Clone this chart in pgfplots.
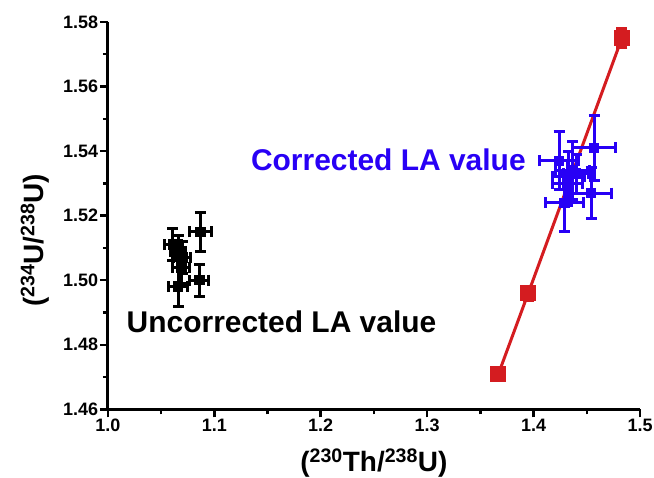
\documentclass[border=0pt]{standalone}
\usepackage{pgfplots}
\pgfplotsset{compat=1.18}
\usepackage{fontspec}
\setmainfont{Liberation Sans}
\definecolor{myblue}{RGB}{40,0,245}
\definecolor{myred}{RGB}{212,28,32}
\begin{document}
\begin{tikzpicture}
\begin{axis}[
 scale only axis, width=533pt, height=388pt,
 at={(0,0)}, anchor=south west,
 xmin=1.0, xmax=1.5, ymin=1.46, ymax=1.58,
 axis lines*=left, axis line style={line width=2.8pt},
 tick align=outside, major tick length=8pt, minor tick length=5pt,
 every tick/.style={black, line width=2.5pt},
 xtick={1.0,1.1,1.2,1.3,1.4,1.5}, ytick={1.46,1.48,1.50,1.52,1.54,1.56,1.58},
 minor x tick num=1, minor y tick num=1,
 /pgf/number format/assume math mode=true,
 xticklabel style={/pgf/number format/.cd, fixed, fixed zerofill, precision=1},
 yticklabel style={/pgf/number format/.cd, fixed, fixed zerofill, precision=2},
 tick label style={font=\fontsize{18}{20}\selectfont\bfseries, inner sep=1.5pt},
 xlabel={(\textsuperscript{230}Th/\textsuperscript{238}U)},
 ylabel={(\textsuperscript{234}U/\textsuperscript{238}U)},
 every axis x label/.style={at={(axis description cs:0.5,-0.139)}, anchor=center, inner sep=0pt},
 every axis y label/.style={at={(axis description cs:-0.137,0.436)}, rotate=90, anchor=center, inner sep=0pt},
 label style={font=\fontsize{28}{32}\selectfont\bfseries},
 clip=false,
]
\addplot[myred, line width=3pt, mark=square*, mark size=7pt, mark options={solid, line width=2pt},
  error bars/.cd, x dir=both, x explicit, y dir=both, y explicit,
  error bar style={line width=3pt},
  error mark options={rotate=90, mark size=5.5pt, line width=3pt}]
  table[x=x,y=y,x error=ex,y error=ey]{
x y ex ey
1.367 1.471 0.002 0.0015
1.395 1.496 0.002 0.0022
1.483 1.575 0.002 0.0030
};
\addplot[myblue, only marks, mark=square*, mark size=4.5pt, mark options={line width=1.5pt},
  error bars/.cd, x dir=both, x explicit, y dir=both, y explicit,
  error bar style={line width=3pt},
  error mark options={rotate=90, mark size=5.5pt, line width=3pt}]
  table[x=x,y=y,x error=ex,y error=ey]{
x y ex ey
1.457 1.541 0.020 0.010
1.424 1.537 0.018 0.009
1.437 1.534 0.016 0.009
1.433 1.532 0.015 0.008
1.432 1.530 0.014 0.007
1.440 1.533 0.012 0.006
1.454 1.527 0.019 0.008
1.429 1.524 0.018 0.009
};
\addplot[black, only marks, mark=square*, mark size=4.5pt, mark options={line width=1.5pt},
  error bars/.cd, x dir=both, x explicit, y dir=both, y explicit,
  error bar style={line width=3pt},
  error mark options={rotate=90, mark size=5.5pt, line width=3pt}]
  table[x=x,y=y,x error=ex,y error=ey]{
x y ex ey
1.087 1.515 0.010 0.006
1.061 1.511 0.008 0.005
1.070 1.507 0.008 0.005
1.066 1.509 0.007 0.005
1.069 1.504 0.008 0.005
1.086 1.500 0.009 0.005
1.066 1.498 0.009 0.006
};
\node[font=\fontsize{30}{36}\selectfont\bfseries, text=myblue, inner sep=0pt] at (axis cs:1.2636,1.5373) {Corrected LA value};
\node[font=\fontsize{30}{36}\selectfont\bfseries, text=black, inner sep=0pt] at (axis cs:1.1632,1.4871) {Uncorrected LA value};
\end{axis}
\path (-108pt,-68pt) rectangle (546pt,410pt);
\end{tikzpicture}
\end{document}
